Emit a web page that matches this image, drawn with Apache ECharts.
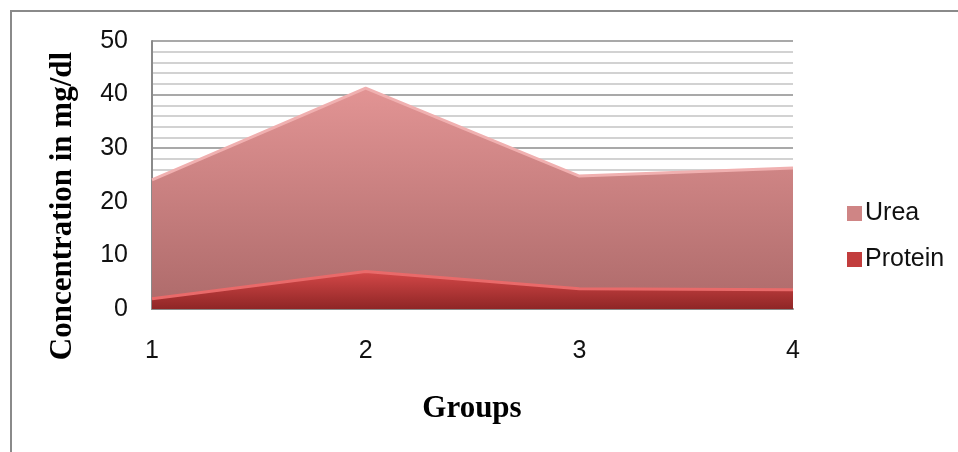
<!DOCTYPE html>
<html><head><meta charset="utf-8">
<script src="https://cdn.jsdelivr.net/npm/echarts@6/dist/echarts.min.js"></script>
<style>html,body{margin:0;padding:0;background:#fff}#c{width:958px;height:452px}</style>
</head><body><div id="c"></div>
<script>
const groups = ['1', '2', '3', '4'];
const urea = [24.1, 41.2, 24.8, 26.3];
const protein = [1.9, 7.0, 3.8, 3.6];
const yTicks = { min: 0, max: 50, interval: 10 };

const chart = echarts.init(document.getElementById('c'));
chart.setOption({
  animation: false,
  backgroundColor: '#fff',
  grid: { left: 152, right: 165, top: 41, bottom: 143 },
  legend: {
    orient: 'vertical', left: 842, top: 196, itemGap: 21,
    itemWidth: 15, itemHeight: 15, icon: 'rect',
    textStyle: { fontFamily: 'Liberation Sans', fontSize: 25, color: '#111', padding: [0, 0, 0, -2] },
    data: ['Urea', 'Protein']
  },
  xAxis: {
    type: 'category', data: groups, boundaryGap: false,
    axisLine: { lineStyle: { color: '#8a8a8a', width: 2 } },
    axisTick: { show: false },
    axisLabel: { margin: 30, fontFamily: 'Liberation Sans', fontSize: 25, color: '#111' }
  },
  yAxis: {
    type: 'value', min: yTicks.min, max: yTicks.max, interval: yTicks.interval,
    axisLine: { show: true, lineStyle: { color: '#8a8a8a', width: 2 } },
    axisTick: { show: false },
    axisLabel: { margin: 24, fontFamily: 'Liberation Sans', fontSize: 25, color: '#111' },
    splitLine: { lineStyle: { color: '#8c8c8c', width: 1.5 } },
    minorTick: { show: false, splitNumber: 5 },
    minorSplitLine: { show: true, lineStyle: { color: '#c4c4c4', width: 1.5 } }
  },
  series: [
    {
      name: 'Urea', type: 'line', data: urea, symbol: 'none',
      lineStyle: { color: '#f0b0b0', width: 3 },
      itemStyle: { color: '#cf8585' },
      areaStyle: {
        opacity: 1,
        color: new echarts.graphic.LinearGradient(0, 0, 0, 1, [
          { offset: 0, color: '#e29494' },
          { offset: 1, color: '#ad6a6a' }
        ])
      }
    },
    {
      name: 'Protein', type: 'line', data: protein, symbol: 'none',
      lineStyle: { color: '#e96a6a', width: 3 },
      itemStyle: { color: '#c23d3d' },
      areaStyle: {
        opacity: 1,
        color: new echarts.graphic.LinearGradient(0, 0, 0, 1, [
          { offset: 0, color: '#d44848' },
          { offset: 1, color: '#8f2626' }
        ])
      }
    }
  ],
  graphic: [
    { type: 'line', shape: { x1: 10, y1: 11, x2: 958, y2: 11 }, style: { stroke: '#8a8a8a', lineWidth: 2 } },
    { type: 'line', shape: { x1: 11, y1: 10, x2: 11, y2: 452 }, style: { stroke: '#8a8a8a', lineWidth: 2 } },
    { type: 'text', x: 63, y: 206, rotation: Math.PI / 2,
      style: { text: 'Concentration in mg/dl', font: 'bold 31px "Liberation Serif"', fill: '#000', textAlign: 'center', textVerticalAlign: 'middle' } },
    { type: 'text', x: 472, y: 409,
      style: { text: 'Groups', font: 'bold 31px "Liberation Serif"', fill: '#000', textAlign: 'center', textVerticalAlign: 'middle' } }
  ]
});
</script></body></html>
